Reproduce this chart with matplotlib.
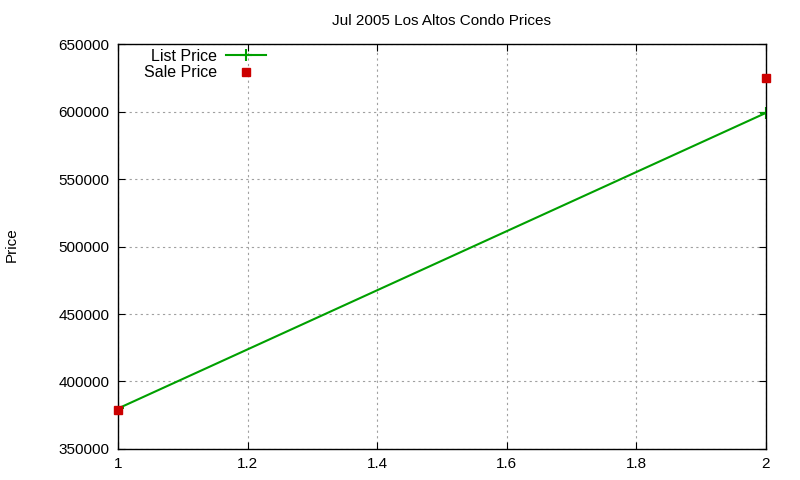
import matplotlib
matplotlib.use('Agg')
import matplotlib.pyplot as plt
from matplotlib.ticker import FormatStrFormatter

# Data
x_vals = [1, 2]
list_price = [380000, 599000]
sale_price = [379000, 625000]

plt.rcParams['font.family'] = ['Liberation Sans', 'DejaVu Sans']

fig = plt.figure(figsize=(8, 4.8), dpi=100)
ax = fig.add_axes([0.1475, 0.0646, 0.81, 0.8437])

ax.plot(x_vals, list_price, color='#00a000', lw=1.5, marker='+', ms=9, mew=1.5,
        label='List Price')
ax.plot(x_vals, sale_price, color='#cc0000', lw=0, marker='s', ms=6,
        label='Sale Price', clip_on=False, zorder=5)

ax.set_xlim(1, 2)
ax.set_ylim(350000, 650000)
ax.set_xticks([1, 1.2, 1.4, 1.6, 1.8, 2])
ax.set_yticks(range(350000, 650001, 50000))
ax.xaxis.set_major_formatter(FormatStrFormatter('%g'))
ax.yaxis.set_major_formatter(FormatStrFormatter('%d'))
ax.tick_params(direction='in', top=True, right=True, labelsize=11, length=5, pad=6)
ax.grid(True, color='#a0a0a0', linestyle=(0, (2, 3)), lw=0.8)

for s in ax.spines.values():
    s.set_linewidth(1.0)

ax.set_title('Jul 2005 Los Altos Condo Prices', fontsize=11, pad=14)
fig.text(0.015, 0.49, 'Price', rotation=90, fontsize=11, va='center', ha='center')

ax.legend(loc='upper left', bbox_to_anchor=(0.032, 1.0), markerfirst=False,
          frameon=False, fontsize=11.5, handlelength=2.5, borderpad=0.1,
          labelspacing=0.1, handletextpad=0.6, borderaxespad=0.2)

fig.savefig('out.png', dpi=100)
